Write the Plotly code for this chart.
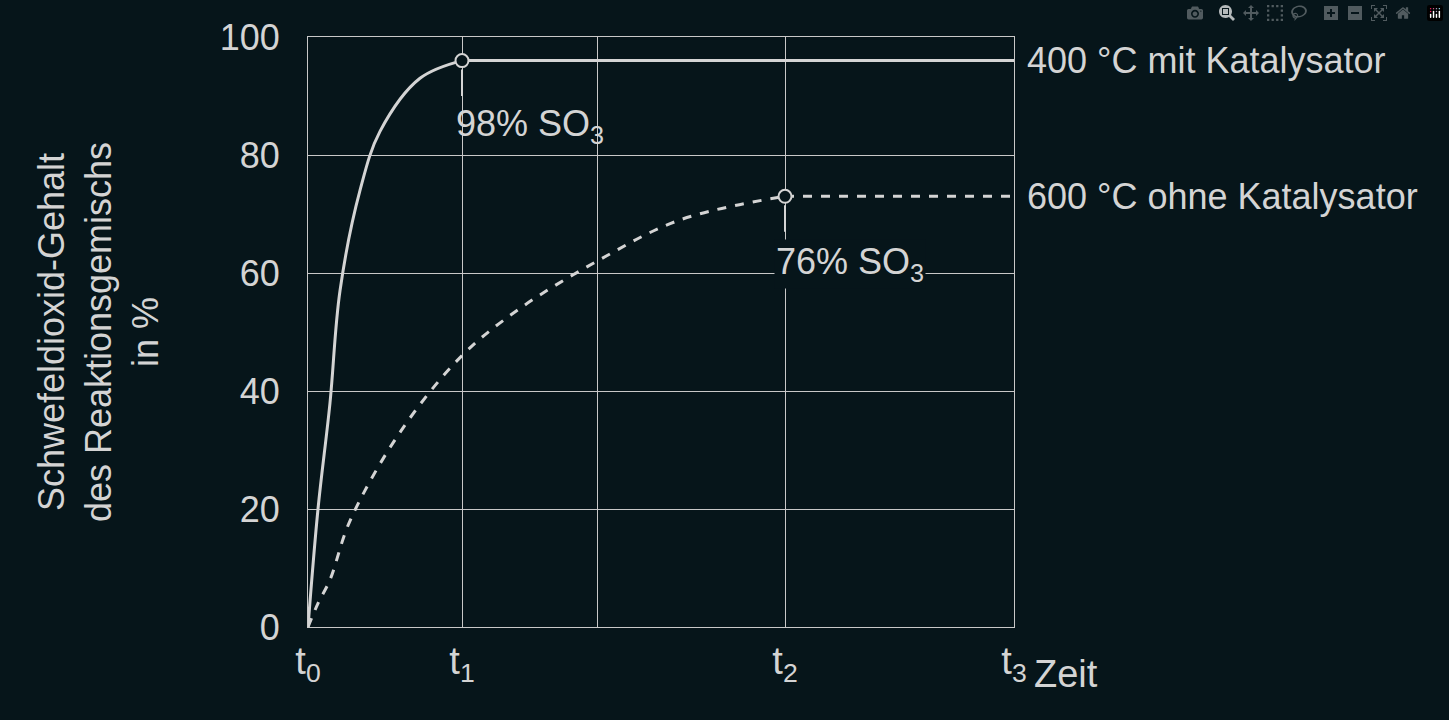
import plotly.graph_objects as go

# x in time units (t0..t3 mapped to 0..706), y in %
x_cat = [0, 10, 22, 32, 52, 72, 112, 154]
y_cat = [0, 20, 38, 57, 74, 84, 93, 96]
x_cat_flat = [154, 706]
y_cat_flat = [96, 96]
x_nocat = [0, 10, 22, 42, 92, 154, 212, 289, 372, 477]
y_nocat = [0, 4, 8, 18, 33, 46, 54, 62, 69, 73]
x_nocat_flat = [477, 706]
y_nocat_flat = [73, 73]
tick_pos = [0, 154, 289, 477, 706]
tick_text = ["t<sub>0</sub>", "t<sub>1</sub>", "", "t<sub>2</sub>", "t<sub>3</sub>"]

bg = "#06151a"
fg = "#d4d4d4"
fig = go.Figure()
fig.add_trace(go.Scatter(x=x_cat, y=y_cat, mode="lines", line=dict(color=fg, width=3, shape="spline")))
fig.add_trace(go.Scatter(x=x_cat_flat, y=y_cat_flat, mode="lines", line=dict(color=fg, width=3)))
fig.add_trace(go.Scatter(x=x_nocat, y=y_nocat, mode="lines",
                         line=dict(color=fg, width=3, dash="dash", shape="spline")))
fig.add_trace(go.Scatter(x=x_nocat_flat, y=y_nocat_flat, mode="lines",
                         line=dict(color=fg, width=3, dash="dash")))
for px, py in [(154, 96), (477, 73)]:
    fig.add_shape(type="line", x0=px, x1=px, y0=py - 1.5, y1=py - 6, line=dict(color=fg, width=2))
fig.add_trace(go.Scatter(x=[154, 477], y=[96, 73], mode="markers",
                         marker=dict(size=13, color=bg, line=dict(color=fg, width=2))))
fig.add_annotation(x=146, y=85, text="98% SO<sub>3</sub>", xanchor="left", showarrow=False,
                   font=dict(size=36, color=fg))
fig.add_annotation(x=466, y=61.5, text="76% SO<sub>3</sub>", xanchor="left", showarrow=False,
                   font=dict(size=36, color=fg), bgcolor=bg)
fig.add_annotation(x=1.015, xref="paper", y=96, text="400 °C mit Katalysator", xanchor="left",
                   showarrow=False, font=dict(size=36, color=fg))
fig.add_annotation(x=1.015, xref="paper", y=73, text="600 °C ohne Katalysator", xanchor="left",
                   showarrow=False, font=dict(size=36, color=fg))
fig.add_annotation(x=1.025, xref="paper", y=-0.04, yref="paper", yanchor="top", text="Zeit",
                   xanchor="left", showarrow=False, font=dict(size=38, color=fg))
fig.update_layout(
    width=1449, height=720, paper_bgcolor=bg, plot_bgcolor=bg, showlegend=False,
    margin=dict(l=308, r=435, t=37, b=93),
    font=dict(family="Liberation Sans, Arial", color=fg, size=36),
    xaxis=dict(range=[0, 706], tickvals=tick_pos, ticktext=tick_text, showgrid=True,
               gridcolor="#c8c8c8", gridwidth=1, zeroline=False, showline=True, mirror=True,
               linecolor="#c8c8c8", ticks="", tickfont=dict(size=38)),
    yaxis=dict(range=[0, 100], dtick=20, showgrid=True, gridcolor="#c8c8c8", gridwidth=1,
               zeroline=False, showline=True, mirror=True, linecolor="#c8c8c8", ticks="",
               tickfont=dict(size=36), ticksuffix="  ",
               title=dict(text="Schwefeldioxid-Gehalt<br>des Reaktionsgemischs<br>in %",
                          font=dict(size=36), standoff=50)),
)
fig.write_html("out.html")
with open("out.html") as f:
    html = f.read()
with open("out.html", "w") as f:
    f.write(html.replace("<body>", '<body style="margin:0">', 1))
